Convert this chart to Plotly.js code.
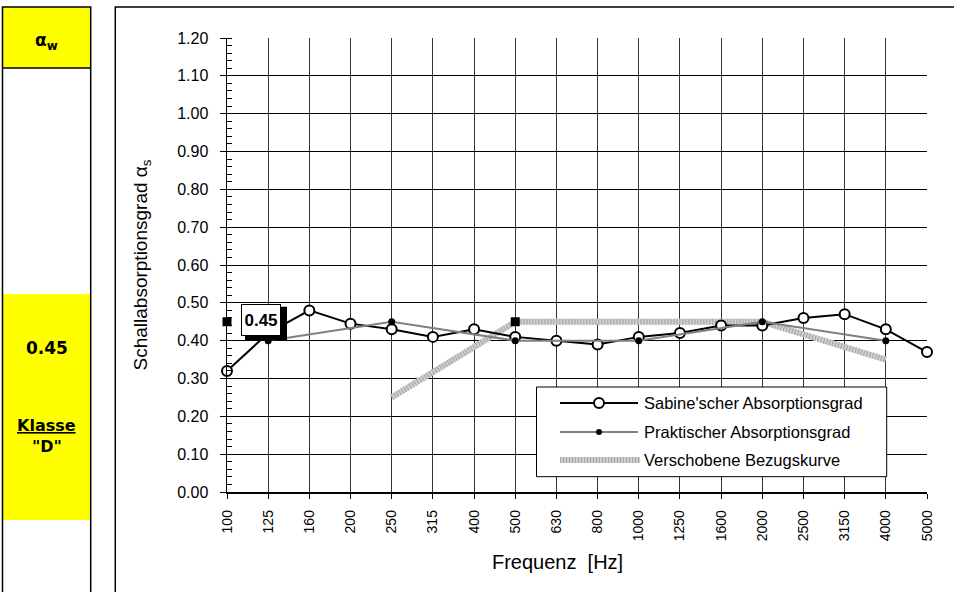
<!DOCTYPE html>
<html>
<head>
<meta charset="utf-8">
<script src="https://cdn.plot.ly/plotly-3.0.1.min.js"></script>
<style>html,body{margin:0;padding:0;background:#fff;}#chart{width:954px;height:592px;}</style>
</head>
<body>
<div id="chart"></div>
<script>
// ---- data ----
const freqs = ['100','125','160','200','250','315','400','500','630','800','1000','1250','1600','2000','2500','3150','4000','5000'];
const sabine = [0.32,0.42,0.48,0.445,0.43,0.41,0.43,0.41,0.40,0.39,0.41,0.42,0.44,0.44,0.46,0.47,0.43,0.37];
const octaves = ['125','250','500','1000','2000','4000'];
const practical = [0.40,0.45,0.40,0.40,0.45,0.40];
const refFreqs = ['250','500','1000','2000','4000'];
const refCurve = [0.25,0.45,0.45,0.45,0.35];
const alphaWFreqs = ['100','500'];
const alphaW = [0.45,0.45];
const alphaWValue = 0.45;
const rating = 'D';
const legendNames = ["Sabine'scher Absorptionsgrad","Praktischer Absorptionsgrad","Verschobene Bezugskurve"];

// ---- layout helpers (pixel -> paper) ----
const L=227, R=927, T=38, B=492;
const px = x => (x-L)/(R-L);
const py = y => (B-y)/(B-T);

const arial = "'Liberation Sans',Arial,sans-serif";
const boldF = "'DejaVu Sans',Verdana,sans-serif";

const labelIdx = freqs.indexOf(alphaWFreqs[0]);

const traces = [
  {x: refFreqs, y: refCurve, type:'scatter', mode:'lines', name: legendNames[2], showlegend:false,
   line:{color:'#cfcfcf', width:6}, cliponaxis:false, hoverinfo:'skip'},
  {x: refFreqs, y: refCurve, type:'scatter', mode:'lines', showlegend:false,
   line:{color:'#a4a4a4', width:6, dash:'1px,2px'}, cliponaxis:false, hoverinfo:'skip'},
  {x: freqs, y: sabine, type:'scatter', mode:'lines+markers', name: legendNames[0], showlegend:false,
   line:{color:'#000', width:2}, marker:{symbol:'circle', size:10, color:'#fff', line:{color:'#000', width:2}}, cliponaxis:false},
  {x: octaves, y: practical, type:'scatter', mode:'lines+markers', name: legendNames[1], showlegend:false,
   line:{color:'#808080', width:2}, marker:{symbol:'circle', size:7, color:'#000'}, cliponaxis:false},
  {x: alphaWFreqs, y: alphaW, type:'scatter', mode:'markers', name:'αw', showlegend:false,
   marker:{symbol:'square', size:9, color:'#000'}, cliponaxis:false}
];

const shapes = [
  // left panel
  {type:'rect', xref:'paper', yref:'paper', x0:px(2.5), x1:px(90.7), y0:py(68), y1:py(7), fillcolor:'#ffff00', line:{width:0}, layer:'below'},
  {type:'rect', xref:'paper', yref:'paper', x0:px(2.5), x1:px(90.7), y0:py(520), y1:py(294), fillcolor:'#ffff00', line:{width:0}, layer:'below'},
  {type:'rect', xref:'paper', yref:'paper', x0:px(2.5), x1:px(90.7), y0:py(640), y1:py(7), line:{color:'#000', width:1.5}, layer:'below'},
  {type:'line', xref:'paper', yref:'paper', x0:px(2.5), x1:px(90.7), y0:py(68), y1:py(68), line:{color:'#000', width:1.5}, layer:'below'},
  // chart border
  {type:'rect', xref:'paper', yref:'paper', x0:px(115.3), x1:px(990), y0:py(640), y1:py(7), line:{color:'#000', width:1.5}, layer:'below'},
  // shadow of the data label (anchored at the αw point, pixel-sized)
  {type:'rect', xref:'x', yref:'y', xsizemode:'pixel', ysizemode:'pixel', xanchor:labelIdx, yanchor:alphaW[0],
   x0:18, x1:60, y0:-19, y1:15, fillcolor:'#000', line:{width:0}, layer:'above'},
  // legend box
  {type:'rect', xref:'paper', yref:'paper', x0:px(536.5), x1:px(886.7), y0:py(476.7), y1:py(387), fillcolor:'#fff', line:{color:'#000', width:1}, layer:'above'},
  // legend symbols
  {type:'line', xref:'paper', yref:'paper', x0:px(560), x1:px(638), y0:py(403), y1:py(403), line:{color:'#000', width:2}, layer:'above'},
  {type:'circle', xref:'paper', yref:'paper', x0:px(594), x1:px(604), y0:py(408), y1:py(398), fillcolor:'#fff', line:{color:'#000', width:2}, layer:'above'},
  {type:'line', xref:'paper', yref:'paper', x0:px(560), x1:px(638), y0:py(432), y1:py(432), line:{color:'#808080', width:2}, layer:'above'},
  {type:'circle', xref:'paper', yref:'paper', x0:px(596), x1:px(602), y0:py(435), y1:py(429), fillcolor:'#000', line:{color:'#000', width:0}, layer:'above'},
  {type:'line', xref:'paper', yref:'paper', x0:px(560), x1:px(640), y0:py(460), y1:py(460), line:{color:'#cfcfcf', width:6}, layer:'above'},
  {type:'line', xref:'paper', yref:'paper', x0:px(560), x1:px(640), y0:py(460), y1:py(460), line:{color:'#a4a4a4', width:6, dash:'1px,2px'}, layer:'above'}
];

const annotations = [
  // left panel texts
  {xref:'paper', yref:'paper', x:px(46.7), y:py(41), xanchor:'center', yanchor:'middle', text:'<b>α<sub>w</sub></b>', showarrow:false, font:{family:boldF, size:17, color:'#000'}},
  {xref:'paper', yref:'paper', x:px(46.7), y:py(348), xanchor:'center', yanchor:'middle', text:'<b>'+alphaWValue.toFixed(2)+'</b>', showarrow:false, font:{family:boldF, size:17, color:'#000'}},
  {xref:'paper', yref:'paper', x:px(46.7), y:py(425), xanchor:'center', yanchor:'middle', text:'<b><u>Klasse</u></b>', showarrow:false, font:{family:boldF, size:16, color:'#000'}},
  {xref:'paper', yref:'paper', x:px(46.7), y:py(446), xanchor:'center', yanchor:'middle', text:'<b>"'+rating+'"</b>', showarrow:false, font:{family:boldF, size:16, color:'#000'}},
  // data label
  {xref:'x', yref:'y', x:labelIdx, y:alphaW[0], xanchor:'left', yanchor:'middle', xshift:14, yshift:2,
   width:34, height:26, text:'<b>'+alphaWValue.toFixed(2)+'</b>', showarrow:false, font:{family:arial, size:17, color:'#000'},
   bgcolor:'#fff', bordercolor:'#000', borderwidth:1, borderpad:2},
  // legend texts
  {xref:'paper', yref:'paper', x:px(642), y:py(403), xanchor:'left', yanchor:'middle', text:legendNames[0], showarrow:false, font:{family:arial, size:16.5, color:'#000'}},
  {xref:'paper', yref:'paper', x:px(642), y:py(432), xanchor:'left', yanchor:'middle', text:legendNames[1], showarrow:false, font:{family:arial, size:16.5, color:'#000'}},
  {xref:'paper', yref:'paper', x:px(642), y:py(460), xanchor:'left', yanchor:'middle', text:legendNames[2], showarrow:false, font:{family:arial, size:16.5, color:'#000'}}
];

const layout = {
  width:954, height:592,
  margin:{l:L, r:954-R, t:T, b:592-B},
  paper_bgcolor:'#fff', plot_bgcolor:'#fff',
  showlegend:false,
  xaxis:{type:'category', categoryorder:'array', categoryarray:freqs, range:[0, freqs.length-1],
    showgrid:true, gridcolor:'#333', gridwidth:1, showline:true, linecolor:'#000', linewidth:1.5,
    ticks:'outside', ticklen:5, tickcolor:'#000', tickangle:-90, ticklabelstandoff:6,
    tickfont:{family:arial, size:14, color:'#000'}, automargin:true,
    title:{text:'Frequenz&nbsp; [Hz]&nbsp;&nbsp;&nbsp;&nbsp;&nbsp;&nbsp;&nbsp;', font:{family:arial, size:20, color:'#000'}, standoff:14}, zeroline:false},
  yaxis:{range:[0,1.2], dtick:0.1, tickformat:'.2f', showgrid:true, gridcolor:'#000', gridwidth:1,
    showline:true, linecolor:'#000', linewidth:1.5, ticks:'outside', ticklen:6, tickcolor:'#000', ticklabelstandoff:8,
    minor:{dtick:0.02, ticks:'inside', ticklen:5, tickcolor:'#000', showgrid:false},
    tickfont:{family:arial, size:16, color:'#000'}, automargin:true, zeroline:false,
    title:{text:'Schallabsorptionsgrad α<sub>s</sub>', font:{family:arial, size:19, color:'#000'}, standoff:24}},
  shapes:shapes, annotations:annotations
};

Plotly.newPlot('chart', traces, layout, {staticPlot:true, displayModeBar:false});
</script>
</body>
</html>
